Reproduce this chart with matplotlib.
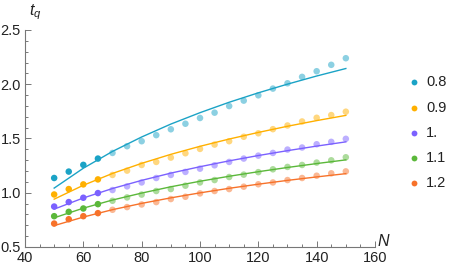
import matplotlib
matplotlib.use("Agg")
import matplotlib.pyplot as plt
from matplotlib.ticker import MultipleLocator
from matplotlib.lines import Line2D

plt.rcParams['font.family'] = ['Liberation Sans', 'DejaVu Sans']
plt.rcParams['mathtext.fontset'] = 'custom'
plt.rcParams['mathtext.it'] = 'Liberation Sans:italic'
plt.rcParams['mathtext.rm'] = 'Liberation Sans'

labels = ["0.8", "0.9", "1.", "1.1", "1.2"]
colors = ["#1ba3c6", "#ffb000", "#7b61ff", "#5bb83a", "#f7722a"]

N_pts = [50, 55, 60, 65, 70, 75, 80, 85, 90, 95, 100, 105, 110, 115, 120,
         125, 130, 135, 140, 145, 150]
t_08 = [1.136, 1.195, 1.257, 1.315, 1.367, 1.429, 1.475, 1.531, 1.585, 1.636, 1.689,
        1.738, 1.799, 1.849, 1.898, 1.960, 2.009, 2.068, 2.120, 2.179, 2.240]
t_09 = [0.984, 1.034, 1.077, 1.123, 1.164, 1.204, 1.256, 1.284, 1.324, 1.364, 1.404,
        1.444, 1.475, 1.516, 1.548, 1.586, 1.620, 1.657, 1.691, 1.716, 1.747]
t_10 = [0.873, 0.914, 0.954, 0.997, 1.025, 1.059, 1.095, 1.136, 1.164, 1.192, 1.222,
        1.253, 1.284, 1.315, 1.342, 1.367, 1.398, 1.417, 1.447, 1.469, 1.497]
t_11 = [0.784, 0.824, 0.855, 0.895, 0.926, 0.957, 0.983, 1.016, 1.034, 1.065, 1.095,
        1.117, 1.145, 1.167, 1.190, 1.216, 1.238, 1.256, 1.278, 1.299, 1.327]
t_12 = [0.716, 0.756, 0.784, 0.812, 0.843, 0.868, 0.892, 0.914, 0.942, 0.963, 0.994,
        1.016, 1.034, 1.056, 1.078, 1.095, 1.117, 1.136, 1.157, 1.179, 1.197]
points = [t_08, t_09, t_10, t_11, t_12]
n_dark = 4  # first points drawn in full colour

N_fit = [50, 60, 70, 80, 90, 100, 110, 120, 130, 140, 150]
f_08 = [1.043, 1.226, 1.381, 1.514, 1.633, 1.738, 1.834, 1.921, 2.001, 2.076, 2.145]
f_09 = [0.941, 1.069, 1.178, 1.271, 1.354, 1.428, 1.495, 1.556, 1.613, 1.665, 1.713]
f_10 = [0.849, 0.952, 1.039, 1.114, 1.181, 1.240, 1.294, 1.343, 1.388, 1.430, 1.469]
f_11 = [0.769, 0.858, 0.933, 0.997, 1.055, 1.106, 1.152, 1.194, 1.233, 1.269, 1.303]
f_12 = [0.697, 0.776, 0.844, 0.902, 0.953, 0.999, 1.041, 1.079, 1.114, 1.146, 1.176]
fits = [f_08, f_09, f_10, f_11, f_12]

W, H = 452, 269
fig = plt.figure(figsize=(W / 100, H / 100), dpi=100)
ax = fig.add_axes([25 / W, (H - 247) / H, 350 / W, 217 / H])

for pts, fit, c in zip(points, fits, colors):
    ax.plot(N_fit, fit, color=c, lw=1.0, zorder=3)
    ax.scatter(N_pts[:n_dark], pts[:n_dark], s=22, color=c, edgecolors='none', zorder=4)
    ax.scatter(N_pts[n_dark:], pts[n_dark:], s=22, color=c, alpha=0.5,
               edgecolors='none', zorder=2)

ax.set_xlim(40, 160)
ax.set_ylim(0.5, 2.5)
ax.xaxis.set_major_locator(MultipleLocator(20))
ax.xaxis.set_minor_locator(MultipleLocator(5))
ax.yaxis.set_major_locator(MultipleLocator(0.5))
ax.yaxis.set_minor_locator(MultipleLocator(0.1))
ax.yaxis.set_major_formatter(matplotlib.ticker.FormatStrFormatter('%.1f'))

for s in ['top', 'right']:
    ax.spines[s].set_visible(False)
for s in ['left', 'bottom']:
    ax.spines[s].set_color('#777777')
    ax.spines[s].set_linewidth(0.8)
ax.tick_params(which='both', direction='in', color='#777777', labelsize=10.5,
               labelcolor='#222222', width=0.7)
ax.tick_params(which='major', length=4, pad=3)
ax.tick_params(which='minor', length=2.5)

fig.text(35 / W, 1 - 12 / H, r'$t_q$', fontsize=11.5, ha='center', va='center',
         color='#222222')
fig.text(383 / W, 1 - 241 / H, 'N', fontsize=11.5, style='italic', ha='center',
         va='center', color='#222222')

leg_y = [82, 108, 133, 158, 183]
for lab, c, y in zip(labels, colors, leg_y):
    fig.add_artist(Line2D([414 / W], [1 - y / H], marker='o', markersize=4.2,
                          color=c, markeredgewidth=0, transform=fig.transFigure))
    fig.text(426 / W, 1 - y / H, lab, fontsize=10.5, ha='left', va='center',
             color='#222222')

fig.savefig('out.png', dpi=100)
